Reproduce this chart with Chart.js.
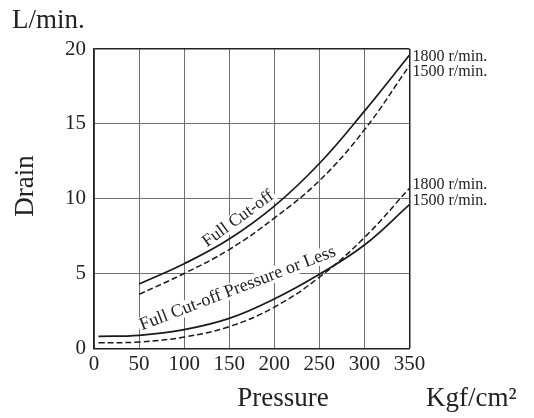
<!DOCTYPE html>
<html>
<head>
<meta charset="utf-8">
<script src="https://cdn.jsdelivr.net/npm/chart.js@4"></script>
<style>
  html, body { margin: 0; padding: 0; background: #fff; }
  #wrap { width: 534px; height: 418px; }
</style>
</head>
<body>
<div id="wrap"><canvas id="c" width="534" height="418"></canvas></div>
<script>
// ---- data ----
const upperPressure = [50, 100, 150, 200, 250, 300, 350];
const fullCutoffSolid = [4.3, 5.65, 7.3, 9.5, 12.35, 15.85, 19.6];
const fullCutoffDashed = [3.6, 5.0, 6.6, 8.7, 11.2, 14.6, 18.9];

const lowerPressure = [5, 50, 100, 150, 200, 250, 300, 350];
const lowerSolid = [0.8, 0.87, 1.25, 2.0, 3.3, 4.95, 6.9, 9.6];
const lowerDashed = [0.37, 0.42, 0.75, 1.45, 2.75, 4.75, 7.4, 10.7];

const xTicks = [0, 50, 100, 150, 200, 250, 300, 350];
const yTicks = [0, 5, 10, 15, 20];

const speedLabels = ["1800 r/min.", "1500 r/min."];
const upperLabelValues = [19.5, 18.5];
const lowerLabelValues = [10.95, 9.85];

const curveLabelUpper = "Full Cut-off";
const curveLabelLower = "Full Cut-off Pressure or Less";
const yUnit = "L/min.";
const yTitle = "Drain";
const xTitle = "Pressure";
const xUnit = "Kgf/cm²";

const SERIF = "'Liberation Serif', 'Times New Roman', serif";
const TXT = "#222";

function pts(xs, ys) { return xs.map((x, i) => ({ x: x, y: ys[i] })); }

const lineBase = { borderColor: "#1a1a1a", pointRadius: 0, fill: false, tension: 0.4 };

const textPlugin = {
  id: "texts",
  beforeDatasetsDraw(chart) {
    const ctx = chart.ctx;
    const xs = chart.scales.x, ys = chart.scales.y;
    function rotText(str, vx, vy, deg, size) {
      const px = xs.getPixelForValue(vx), py = ys.getPixelForValue(vy);
      ctx.save();
      ctx.translate(px, py);
      ctx.rotate(-deg * Math.PI / 180);
      ctx.font = size + "px " + SERIF;
      const w = ctx.measureText(str).width;
      ctx.fillStyle = "#fff";
      ctx.fillRect(-w / 2 - 2, -size * 0.45, w + 4, size * 0.9);
      ctx.fillStyle = TXT;
      ctx.textAlign = "center";
      ctx.textBaseline = "middle";
      ctx.fillText(str, 0, 0);
      ctx.restore();
    }
    rotText(curveLabelUpper, 160, 8.65, 36, 17.5);
    rotText(curveLabelLower, 159.5, 4.0, 21, 18);
  },
  afterDraw(chart) {
    const ctx = chart.ctx;
    const xs = chart.scales.x, ys = chart.scales.y;
    ctx.save();
    ctx.fillStyle = TXT;
    ctx.textBaseline = "middle";
    ctx.textAlign = "left";
    ctx.font = "16px " + SERIF;
    const rx = xs.right + 3;
    speedLabels.forEach((s, i) => {
      ctx.fillText(s, rx, ys.getPixelForValue(upperLabelValues[i]));
      ctx.fillText(s, rx, ys.getPixelForValue(lowerLabelValues[i]));
    });
    ctx.font = "27px " + SERIF;
    ctx.fillText(yUnit, 12, 21);
    ctx.fillText(xUnit, 426, 399);
    ctx.textAlign = "center";
    ctx.fillText(xTitle, 283, 399);
    ctx.save();
    ctx.translate(26, 186);
    ctx.rotate(-Math.PI / 2);
    ctx.fillText(yTitle, 0, 0);
    ctx.restore();
    ctx.restore();
  }
};

new Chart(document.getElementById("c"), {
  type: "line",
  data: {
    datasets: [
      Object.assign({ data: pts(upperPressure, fullCutoffSolid), borderWidth: 1.7 }, lineBase),
      Object.assign({ data: pts(upperPressure, fullCutoffDashed), borderWidth: 1.5, borderDash: [6, 3] }, lineBase),
      Object.assign({ data: pts(lowerPressure, lowerSolid), borderWidth: 1.7 }, lineBase),
      Object.assign({ data: pts(lowerPressure, lowerDashed), borderWidth: 1.5, borderDash: [6, 3] }, lineBase)
    ]
  },
  options: {
    responsive: false,
    animation: false,
    devicePixelRatio: 1,
    layout: { padding: { left: 0, top: 49, right: 124.5, bottom: 0 } },
    plugins: { legend: { display: false }, tooltip: { enabled: false } },
    scales: {
      x: {
        type: "linear",
        min: 0, max: 350,
        afterBuildTicks(s) { s.ticks = xTicks.map(v => ({ value: v })); },
        afterFit(s) { s.height = 69.7; },
        grid: {
          drawTicks: false,
          lineWidth: c => (c.tick && c.tick.value === 350) ? 1.5 : 1,
          color: c => (c.tick && c.tick.value === 350) ? "#222" : "#6f6f6f"
        },
        border: { color: "#222", width: 1.6 },
        ticks: { padding: 4, color: TXT, font: { family: SERIF, size: 21 }, maxRotation: 0 }
      },
      y: {
        min: 0, max: 20,
        afterBuildTicks(s) { s.ticks = yTicks.map(v => ({ value: v })); },
        afterFit(s) { s.width = 94; },
        grid: {
          drawTicks: false,
          lineWidth: c => (c.tick && c.tick.value === 20) ? 1.5 : 1,
          color: c => (c.tick && c.tick.value === 20) ? "#222" : "#6f6f6f"
        },
        border: { color: "#222", width: 1.6 },
        ticks: { padding: 8, color: TXT, font: { family: SERIF, size: 21 } }
      }
    }
  },
  plugins: [textPlugin]
});
</script>
</body>
</html>
